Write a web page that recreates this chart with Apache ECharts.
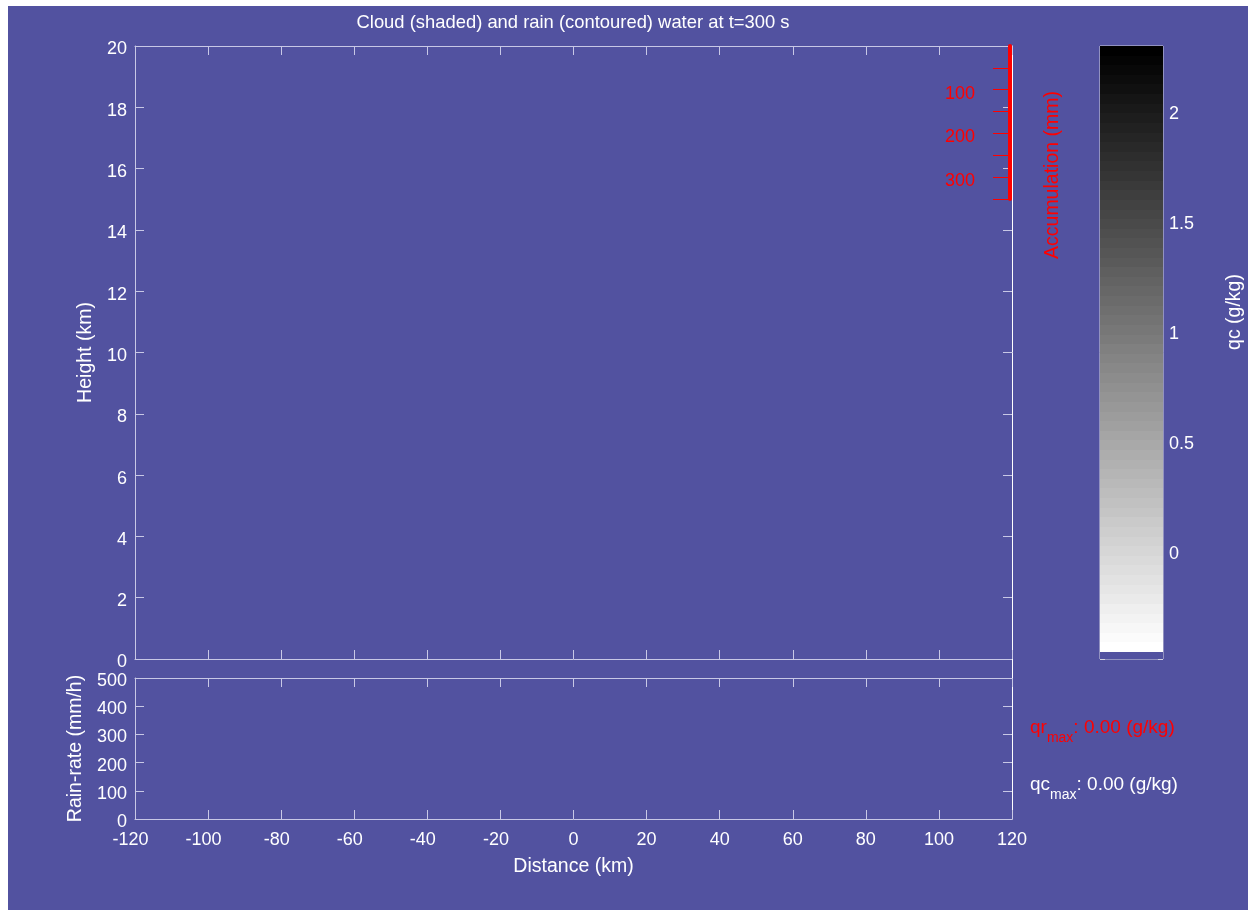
<!DOCTYPE html>
<html>
<head>
<meta charset="utf-8">
<title>Cloud and rain water</title>
<script src="https://cdn.jsdelivr.net/npm/echarts@6/dist/echarts.min.js"></script>
<style>
  html, body { margin: 0; padding: 0; background: #ffffff; }
  #chart { width: 1248px; height: 910px; }
</style>
</head>
<body>
<div id="chart"></div>
<script>
// Axis ranges and tick labels
const distanceRange = [-120, 120];
const distanceStep = 20;
const heightRange = [0, 20];
const heightStep = 2;
const rainRateRange = [0, 500];
const rainRateStep = 100;
const accumRange = [0, 350];
const accumTicks = [50, 100, 150, 200, 250, 300, 350];
const accumLabels = [100, 200, 300];
const qcScale = [-0.5, 2.286];
const qcStep = 0.5;
const qcLabels = [0, 0.5, 1, 1.5, 2];

// Field maxima at this output time
const timeSec = 300;
const qrMax = 0.00;
const qcMax = 0.00;

const BG = '#5252a0';
const AX = '#c8c8e6';
const CB = '#d2d2e0';
const WHITE = '#ffffff';
const RED = '#ff0000';
const FONT = "'Liberation Sans', Arial, Helvetica, sans-serif";

const tickFont = 18;
const nameFont = 19.5;

// Stepped grey colour bar: lowest band is the background colour, then 63 greys
function colorbarStops() {
  const stops = [];
  const purpleFrac = 7 / 613;
  const nGrey = 63;
  const span = 1 - purpleFrac;
  for (let k = 0; k < nGrey; k++) {
    // k = 0 is the top (black) band
    const g = Math.round(255 * k / (nGrey - 1));
    const c = 'rgb(' + g + ',' + g + ',' + g + ')';
    stops.push({ offset: span * k / nGrey, color: c });
    stops.push({ offset: span * (k + 1) / nGrey, color: c });
  }
  stops.push({ offset: span, color: BG });
  stops.push({ offset: 1, color: BG });
  return stops;
}

function negLabel(v) {
  return v < 0 ? '{n|' + v + '}' : String(v);
}

const xLabelStyle = {
  show: true, color: WHITE, fontSize: tickFont, fontFamily: FONT, margin: 12,
  formatter: negLabel,
  rich: { n: { padding: [0, 9, 0, 0], color: WHITE, fontSize: tickFont, fontFamily: FONT } }
};

// y tick labels sit a little below their tick
function yLabelStyle(color, drop, extra) {
  return Object.assign({
    show: true, color: color, fontSize: tickFont, fontFamily: FONT,
    verticalAlign: 'top', lineHeight: drop * 2
  }, extra || {});
}

function boxAxisLine(color, width) {
  return { show: true, onZero: false, lineStyle: { color: color, width: width || 1 } };
}
function inTicks(len, color, values) {
  const t = { show: true, inside: true, length: len, lineStyle: { color: color || AX, width: 1 } };
  if (values) t.customValues = values;
  return t;
}

const chart = echarts.init(document.getElementById('chart'), null, { renderer: 'canvas' });

const option = {
  backgroundColor: BG,
  animation: false,
  title: {
    text: 'Cloud (shaded) and rain (contoured) water at t=' + timeSec + ' s',
    left: 573, top: 14, textAlign: 'center', padding: 0,
    textStyle: { color: WHITE, fontSize: 18.4, fontWeight: 'normal', fontFamily: FONT }
  },
  grid: [
    { left: 135, top: 46, width: 877, height: 613 },
    { left: 135, top: 678, width: 877, height: 141 },
    { left: 900, top: 46, width: 110, height: 153 },
    { left: 1100, top: 46, width: 63, height: 613, show: true, borderColor: CB, borderWidth: 1, backgroundColor: 'transparent' }
  ],
  xAxis: [
    { gridIndex: 0, type: 'value', position: 'bottom', min: distanceRange[0], max: distanceRange[1], interval: distanceStep,
      axisLine: boxAxisLine(AX), axisTick: inTicks(9), axisLabel: { show: false }, splitLine: { show: false } },
    { gridIndex: 0, type: 'value', position: 'top', min: distanceRange[0], max: distanceRange[1], interval: distanceStep,
      axisLine: boxAxisLine(AX), axisTick: inTicks(9), axisLabel: { show: false }, splitLine: { show: false } },
    { gridIndex: 1, type: 'value', position: 'bottom', min: distanceRange[0], max: distanceRange[1], interval: distanceStep,
      axisLine: boxAxisLine(AX), axisTick: inTicks(9), axisLabel: xLabelStyle, splitLine: { show: false },
      name: 'Distance (km)', nameLocation: 'middle', nameGap: 38,
      nameTextStyle: { color: WHITE, fontSize: nameFont, fontFamily: FONT } },
    { gridIndex: 1, type: 'value', position: 'top', min: distanceRange[0], max: distanceRange[1], interval: distanceStep,
      axisLine: boxAxisLine(AX), axisTick: inTicks(9), axisLabel: { show: false }, splitLine: { show: false } },
    { gridIndex: 2, type: 'value', min: 0, max: 1, show: false, axisLine: { onZero: false } },
    { gridIndex: 3, type: 'value', min: 0, max: 1, show: false, axisLine: { onZero: false } }
  ],
  yAxis: [
    { gridIndex: 0, type: 'value', position: 'left', min: heightRange[0], max: heightRange[1], interval: heightStep,
      axisLine: boxAxisLine(AX), axisTick: inTicks(9), splitLine: { show: false },
      axisLabel: yLabelStyle(WHITE, 3.5, { margin: 8 }),
      name: 'Height (km)', nameLocation: 'middle', nameGap: 34,
      nameTextStyle: { color: WHITE, fontSize: nameFont, fontFamily: FONT } },
    { gridIndex: 0, type: 'value', position: 'right', min: heightRange[0], max: heightRange[1], interval: heightStep,
      axisLine: boxAxisLine(WHITE), axisTick: inTicks(9), axisLabel: { show: false }, splitLine: { show: false } },
    { gridIndex: 1, type: 'value', position: 'left', min: rainRateRange[0], max: rainRateRange[1], interval: rainRateStep,
      axisLine: boxAxisLine(AX), axisTick: inTicks(9), splitLine: { show: false },
      axisLabel: yLabelStyle(WHITE, 3, { margin: 8 }),
      name: 'Rain-rate (mm/h)', nameLocation: 'middle', nameGap: 47,
      nameTextStyle: { color: WHITE, fontSize: nameFont, fontFamily: FONT } },
    { gridIndex: 1, type: 'value', position: 'right', min: rainRateRange[0], max: rainRateRange[1], interval: rainRateStep,
      axisLine: boxAxisLine(WHITE), axisTick: inTicks(9), axisLabel: { show: false }, splitLine: { show: false } },
    { gridIndex: 2, type: 'value', position: 'right', inverse: true, min: accumRange[0], max: accumRange[1], z: 5,
      axisLine: boxAxisLine(RED, 4),
      axisTick: inTicks(17, RED, accumTicks),
      axisLabel: yLabelStyle(RED, 4, { inside: true, margin: 35, customValues: accumLabels }),
      splitLine: { show: false } },
    { gridIndex: 3, type: 'value', position: 'left', min: qcScale[0], max: qcScale[1], interval: qcStep,
      axisLine: { show: false, onZero: false },
      axisTick: inTicks(5, CB),
      axisLabel: { show: false }, splitLine: { show: false } },
    { gridIndex: 3, type: 'value', position: 'right', min: qcScale[0], max: qcScale[1], interval: qcStep,
      axisLine: { show: false, onZero: false },
      axisTick: inTicks(5, CB),
      axisLabel: yLabelStyle(WHITE, 5, { margin: 6, showMaxLabel: false,
        formatter: v => qcLabels.indexOf(v) >= 0 ? String(v) : '' }),
      splitLine: { show: false } }
  ],
  series: [
    {
      // qc colour bar
      type: 'custom', xAxisIndex: 5, yAxisIndex: 5, silent: true, z: 1,
      data: [[0, qcScale[0], 1, qcScale[1]]],
      renderItem: function (params, api) {
        const top = api.coord([api.value(0), api.value(3)]);
        const bot = api.coord([api.value(2), api.value(1)]);
        return {
          type: 'rect',
          shape: { x: top[0], y: top[1], width: bot[0] - top[0], height: bot[1] - top[1] },
          style: { fill: { type: 'linear', x: 0, y: 0, x2: 0, y2: 1, colorStops: colorbarStops() } }
        };
      }
    }
  ],
  graphic: [
    { type: 'rect', shape: { x: 0, y: 0, width: 1248, height: 6 }, style: { fill: '#ffffff' }, z: 10 },
    { type: 'rect', shape: { x: 0, y: 0, width: 8, height: 910 }, style: { fill: '#ffffff' }, z: 10 },
    // right frame edge continues through the gap between the two panels
    { type: 'line', shape: { x1: 1012.5, y1: 659, x2: 1012.5, y2: 678 }, style: { stroke: WHITE, lineWidth: 1 }, z: 10 },
    { type: 'text', x: 1053, y: 175, rotation: Math.PI / 2, z: 10,
      style: { text: 'Accumulation (mm)', fill: RED, fontSize: nameFont, fontFamily: FONT, align: 'center', verticalAlign: 'middle' } },
    { type: 'text', x: 1235, y: 312, rotation: Math.PI / 2, z: 10,
      style: { text: 'qc (g/kg)', fill: WHITE, fontSize: nameFont, fontFamily: FONT, align: 'center', verticalAlign: 'middle' } },
    { type: 'text', x: 1030, y: 728, z: 10,
      style: {
        text: '{q|qr}{s|max}{q|: ' + qrMax.toFixed(2) + ' (g/kg)}',
        align: 'left', verticalAlign: 'middle',
        rich: {
          q: { fill: RED, fontSize: 19, fontFamily: FONT, lineHeight: 34, verticalAlign: 'middle' },
          s: { fill: RED, fontSize: 14, fontFamily: FONT, lineHeight: 14, verticalAlign: 'bottom' }
        }
      } },
    { type: 'text', x: 1030, y: 785, z: 10,
      style: {
        text: '{q|qc}{s|max}{q|: ' + qcMax.toFixed(2) + ' (g/kg)}',
        align: 'left', verticalAlign: 'middle',
        rich: {
          q: { fill: WHITE, fontSize: 19, fontFamily: FONT, lineHeight: 34, verticalAlign: 'middle' },
          s: { fill: WHITE, fontSize: 14, fontFamily: FONT, lineHeight: 14, verticalAlign: 'bottom' }
        }
      } }
  ]
};

chart.setOption(option);
</script>
</body>
</html>
